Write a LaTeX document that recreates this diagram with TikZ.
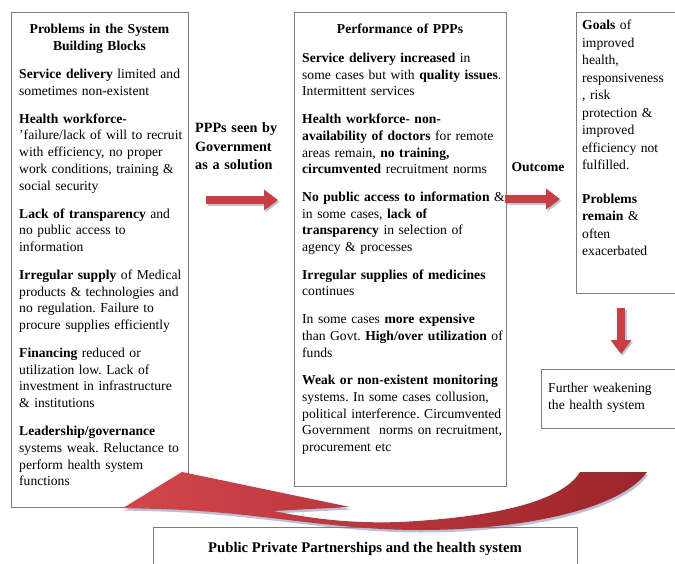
\documentclass[tikz,border=0pt]{standalone}
\usepackage{fontspec}
\setmainfont{Liberation Serif}
\usetikzlibrary{arrows.meta}
\definecolor{boxline}{RGB}{125,125,125}
\definecolor{arrred}{RGB}{200,62,68}
\definecolor{arrlight}{RGB}{210,70,75}
\definecolor{arrdark}{RGB}{155,36,42}
\definecolor{shadowblue}{RGB}{120,128,170}
\begin{document}
\frenchspacing
\begin{tikzpicture}[x=1pt,y=-1pt,
  panel/.style={draw=boxline, line width=0.9pt, fill=white, inner sep=0, anchor=north west},
  body/.style={anchor=base west, inner sep=0, text width=#1, align=left,
    font=\frenchspacing\fontsize{13.6}{16.7}\selectfont},
  rbody/.style={anchor=base west, inner sep=0, text width=#1, align=left,
    font=\frenchspacing\fontsize{13.6}{17.5}\selectfont},
  heading/.style={anchor=base, inner sep=0, text width=#1, align=center,
    font=\bfseries\fontsize{13.6}{17}\selectfont},
  blockarrow/.style={line width=8pt, arrred, -{Triangle[width=20pt,length=14pt]}},
  blockshadow/.style={line width=8pt, shadowblue, opacity=0.45, -{Triangle[width=20pt,length=14pt]}}
]
\useasboundingbox (0,0) rectangle (675,563);
\fill[white] (0,0) rectangle (675,563);

% boxes
\node[panel, minimum width=177pt, minimum height=495pt] (leftbox) at (11,12) {};
\node[panel, minimum width=212pt, minimum height=474pt] (midbox) at (294,12) {};
\node[panel, minimum width=110pt, minimum height=281pt] (goalbox) at (576,12) {};
\node[panel, minimum width=140pt, minimum height=59pt] (weakbox) at (541,369) {};
\node[panel, minimum width=424pt, minimum height=50pt] (pppbox) at (153,527) {};

% left box text
\node[heading=170pt] (lefttitle) at (99.5,33.5) {Problems in the System\\Building Blocks};
\node[body=175pt] (lefttext) at (19,78.5) {%
\textbf{Service delivery} limited and\\ sometimes non-existent\\[11.3pt]
\textbf{Health workforce-}\\ 'failure/lack of will to recruit\\ with efficiency, no proper\\ work conditions, training \&\\ social security\\[11.3pt]
\textbf{Lack of transparency} and\\ no public access to\\ information\\[11.3pt]
\textbf{Irregular supply} of Medical\\ products \& technologies and\\ no regulation. Failure to\\ procure supplies efficiently\\[11.3pt]
\textbf{Financing} reduced or\\ utilization low. Lack of\\ investment in infrastructure\\ \& institutions\\[11.3pt]
\textbf{Leadership/governance}\\ systems weak. Reluctance to\\ perform health system\\ functions};

% middle box text
\node[heading=200pt] (midtitle) at (400,33.5) {Performance of PPPs};
\node[body=210pt] (midtext) at (302,62.5) {%
\textbf{Service delivery increased} in\\ some cases but with \textbf{quality issues}.\\ Intermittent services\\[11pt]
\textbf{Health workforce- non-}\\ \textbf{availability of doctors} for remote\\ areas remain, \textbf{no training,}\\ \textbf{circumvented} recruitment norms\\[11pt]
\textbf{No public access to information} \&\\ in some cases, \textbf{lack of}\\ \textbf{transparency} in selection of\\ agency \& processes\\[11pt]
\textbf{Irregular supplies of medicines}\\ continues\\[11pt]
In some cases \textbf{more expensive}\\ than Govt. \textbf{High/over utilization} of\\ funds\\[11pt]
\textbf{Weak or non-existent monitoring}\\ systems. In some cases collusion,\\ political interference. Circumvented\\ Government\ \ norms on recruitment,\\ procurement etc};

% right box text
\node[rbody=100pt] (goaltext) at (582,29.5) {%
\textbf{Goals} of\\ improved\\ health,\\ responsiveness\\ , risk\\ protection \&\\ improved\\ efficiency not\\ fulfilled.\\[16pt]
\textbf{Problems}\\ \textbf{remain} \&\\ often\\ exacerbated};

\node[body=130pt] (weaktext) at (548,392.5) {Further weakening\\ the health system};

% labels between boxes
\node[anchor=base west, inner sep=0, text width=95pt, align=left,
  font=\bfseries\fontsize{14.2}{18.5}\selectfont] (ppplabel) at (195,132.5)
  {PPPs seen by\\ Government\\ as a solution};
\node[anchor=base, inner sep=0, font=\bfseries\fontsize{13.6}{17}\selectfont] (outlabel) at (538,171.5) {Outcome};

\node[anchor=base, inner sep=0, font=\bfseries\fontsize{14.7}{17}\selectfont] (ppptitle) at (365,552)
  {Public Private Partnerships and the health system};

% straight block arrows
\coordinate (a1s) at (206,200);
\coordinate (a1e) at (278,200);
\coordinate (a2s) at (505,199);
\coordinate (a2e) at (560,199);
\coordinate (a3s) at (621,308);
\coordinate (a3e) at (621,354);
\draw[blockshadow] ([shift={(1.5,2)}]a1s) -- ([shift={(1.5,2)}]a1e);
\draw[blockshadow] ([shift={(1.5,2)}]a2s) -- ([shift={(1.5,2)}]a2e);
\draw[blockshadow] ([shift={(1.5,2)}]a3s) -- ([shift={(1.5,2)}]a3e);
\draw[blockarrow] (a1s) -- (a1e);
\draw[blockarrow] (a2s) -- (a2e);
\draw[blockarrow] (a3s) -- (a3e);

% curved return arrow
\def\curvepath{(580,472) .. controls (560,505) and (480,518) .. (400,522)
  .. controls (340,524) and (300,516) .. (273,511) -- (350,507) -- (182,472)
  -- (123,508) -- (160,509) .. controls (260,512) and (330,530) .. (420,530)
  .. controls (520,530) and (620,510) .. (647,472) -- cycle}
\fill[shadowblue, opacity=0.5, shift={(1.5,2.5)}] \curvepath;
\shade[left color=arrlight, middle color=arrred, right color=arrdark] \curvepath;
\end{tikzpicture}
\end{document}
